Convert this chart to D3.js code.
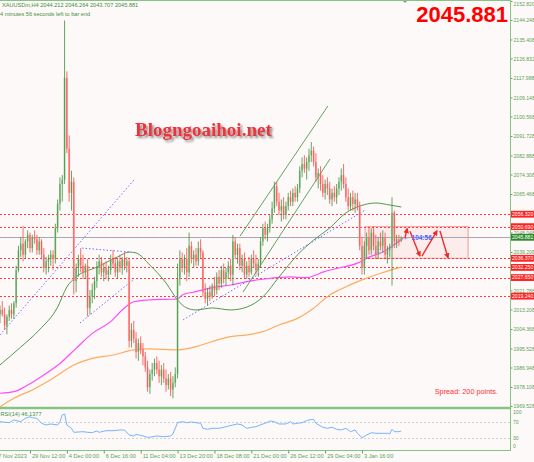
<!DOCTYPE html>
<html><head><meta charset="utf-8">
<script src="https://cdn.jsdelivr.net/npm/d3@7"></script>
<style>body{margin:0;background:#fdf9f8;}svg{display:block;}</style>
</head><body>
<svg id="c" width="534" height="462"></svg>
<script>
// ---- data ----
const opens = [
2011,2013,2011,2006,2010,2013,2011,2016,2031,2040,
2043,2038,2044,2047,2041,2046,2045,2040,2044,2038,
2032,2035,2036,2038,2036,2050,2061,2070,2072,2118,
2086,2066,2071,2026,2032,2036,2033,2030,2033,2014,
2019,2022,2026,2032,2035,2030,2032,2029,2031,2036,
2034,2030,2035,2032,2036,2033,2035,1999,2004,2000,
1994,1998,1995,1992,1987,1978,1984,1986,1989,1986,
1983,1986,1982,1979,1982,1977,1980,1984,2027,2036,
2032,2036,2030,2042,2036,2038,2035,2041,2039,2021,
2018,2021,2019,2024,2022,2028,2025,2031,2027,2030,
2033,2029,2044,2038,2041,2033,2036,2029,2033,2030,
2036,2034,2031,2034,2044,2050,2047,2050,2054,2059,
2069,2062,2058,2060,2056,2060,2064,2062,2066,2064,
2068,2076,2079,2077,2080,2083,2085,2080,2073,2075,
2070,2066,2070,2068,2063,2066,2064,2068,2071,2074,
2070,2064,2060,2064,2061,2063,2060,2042,2032,2042,
2046,2040,2048,2042,2038,2044,2042,2046,2038,2040,
2041,2057,2044,2045,2044.212];
const highs = [
2015,2017,2014,2011,2015,2016,2017,2033,2042,2046,
2051,2045,2049,2048,2047,2049,2047,2046,2045,2041,
2037,2038,2040,2040,2052,2063,2073,2074,2144,2121,
2092,2076,2073,2034,2038,2041,2038,2034,2036,2022,
2025,2028,2035,2038,2037,2034,2035,2033,2038,2040,
2037,2036,2038,2037,2039,2037,2036,2007,2008,2003,
2000,2001,1998,1994,1990,1986,1989,1991,1992,1990,
1988,1989,1986,1984,1985,1983,1987,2034,2040,2039,
2038,2041,2048,2044,2040,2041,2044,2045,2040,2025,
2023,2024,2025,2028,2030,2031,2033,2034,2032,2035,
2036,2047,2046,2043,2043,2038,2039,2035,2037,2038,
2040,2038,2036,2046,2052,2053,2052,2056,2062,2071,
2071,2066,2063,2064,2062,2066,2067,2068,2069,2070,
2078,2082,2083,2082,2086,2089,2087,2084,2077,2078,
2074,2072,2073,2071,2068,2069,2070,2073,2077,2079,
2073,2068,2066,2067,2066,2066,2062,2046,2044,2048,
2050,2050,2051,2047,2046,2048,2049,2048,2042,2043,
2064,2058,2047,2047,2046.264];
const lows = [
2007,2010,2004,2002,2008,2009,2009,2014,2030,2037,
2035,2036,2041,2039,2039,2043,2038,2038,2036,2030,
2029,2030,2033,2031,2034,2048,2058,2062,2070,2084,
2062,2058,2020,2021,2028,2030,2027,2027,2010,2011,
2016,2018,2023,2029,2028,2026,2027,2026,2029,2032,
2028,2027,2030,2029,2031,2030,1996,1996,1998,1991,
1990,1993,1988,1985,1976,1975,1981,1983,1984,1980,
1979,1980,1976,1977,1974,1973,1978,1982,2024,2030,
2029,2026,2028,2034,2032,2033,2033,2036,2019,2016,
2015,2017,2018,2019,2020,2022,2023,2025,2024,2027,
2026,2024,2036,2034,2031,2030,2027,2027,2028,2029,
2032,2029,2028,2032,2042,2045,2044,2048,2052,2057,
2060,2056,2053,2054,2054,2058,2060,2060,2062,2062,
2066,2073,2075,2072,2076,2080,2078,2071,2068,2067,
2064,2063,2065,2061,2060,2062,2061,2065,2067,2068,
2062,2058,2058,2058,2057,2058,2040,2029,2029,2036,
2038,2038,2040,2036,2036,2040,2039,2036,2034,2037,
2024,2041,2041,2042,2043.707];
const closes = [
2013,2011,2006,2010,2013,2011,2016,2031,2040,2043,
2038,2044,2047,2041,2046,2045,2040,2044,2038,2032,
2035,2036,2038,2036,2050,2061,2070,2072,2118,2086,
2066,2071,2026,2032,2036,2033,2030,2033,2014,2019,
2022,2026,2032,2035,2030,2032,2029,2031,2036,2034,
2030,2035,2032,2036,2033,2035,1999,2004,2000,1994,
1998,1995,1992,1987,1978,1984,1986,1989,1986,1983,
1986,1982,1979,1982,1977,1980,1984,2027,2036,2032,
2036,2030,2042,2036,2038,2035,2041,2039,2021,2018,
2021,2019,2024,2022,2028,2025,2031,2027,2030,2033,
2029,2044,2038,2041,2033,2036,2029,2033,2030,2036,
2034,2031,2034,2044,2050,2047,2050,2054,2059,2069,
2062,2058,2060,2056,2060,2064,2062,2066,2064,2068,
2076,2079,2077,2080,2083,2085,2080,2073,2075,2070,
2066,2070,2068,2063,2066,2064,2068,2071,2074,2070,
2064,2060,2064,2061,2063,2060,2042,2032,2042,2046,
2040,2048,2042,2038,2044,2042,2046,2038,2040,2041,
2057,2044,2045,2044.2,2045.881];

// moving averages: [bar, price]
const maGreen = [[0,1988.1],[9,1996.2],[17,2003.9],[25,2014.3],[29,2023.4],[33,2027.9],[42,2032.4],[51,2037.0],[56,2039.2],[59,2038.8],[65,2033.3],[72,2025.2],[77,2017.5],[81,2013.9],[85,2013.0],[92,2013.9],[100,2013.0],[107,2014.3],[114,2018.9],[121,2027.9],[129,2037.9],[136,2044.6],[143,2050.1],[150,2056.9],[156,2060.0],[163,2061.4],[169,2060.5],[174,2059.6]];
const maMagenta = [[0,1975.3],[6,1976.0],[12,1979.0],[19,1983.6],[26,1988.8],[33,1995.6],[40,2002.4],[48,2007.7],[53,2013.0],[58,2016.7],[64,2017.5],[72,2017.8],[77,2017.9],[79,2019.8],[85,2021.3],[92,2023.1],[100,2024.3],[107,2025.8],[114,2026.9],[121,2027.7],[126,2028.0],[129,2027.7],[133,2027.6],[137,2028.8],[140,2030.1],[147,2032.0],[155,2034.2],[160,2036.9],[166,2039.2],[172,2043.3],[175,2045.6]];
const maOrange = [[0,1969.1],[6,1973.0],[14,1976.8],[23,1982.1],[32,1988.1],[40,1991.1],[49,1992.6],[58,1994.9],[65,1995.4],[77,1994.9],[85,1996.4],[92,1998.7],[100,2000.9],[107,2001.7],[114,2003.2],[121,2006.2],[129,2009.2],[136,2013.8],[143,2019.8],[147,2022.0],[157,2026.6],[165,2029.6],[174,2032.4]];

// RSI(14): [bar, value]
const rsiPts = [[0,69.5],[4,67],[6,73.8],[9,69.5],[11,78],[13,82],[14,79.5],[16,78],[18,65.5],[20,61.3],[22,63.8],[25,61.3],[26,69.5],[27,86.3],[28,88.8],[29,61.3],[31,53],[32,43],[36,44.5],[38,43],[40,42],[42,46.3],[43,43],[46,47],[49,47],[52,48.8],[54,48.8],[56,36.3],[58,33.8],[59,38],[62,33.8],[64,30.5],[65,30.5],[66,32],[68,33.8],[71,32],[74,33.8],[75,38.8],[77,67],[79,69.5],[81,67],[83,68.8],[85,67],[87,65.5],[88,53],[90,50.5],[92,53],[95,53],[98,57],[101,61.3],[103,63.8],[105,61.3],[107,53],[109,55.5],[111,57],[114,63.8],[116,68],[117,71.3],[119,69.5],[121,63.8],[124,63.8],[126,69.5],[127,63.8],[129,65.5],[131,67],[133,72],[134,73.8],[136,75.5],[137,65.5],[140,55.5],[142,53],[144,55.5],[146,50.5],[148,48.8],[150,53],[152,44.5],[154,48.8],[155,40.5],[157,29.5],[159,36.3],[161,42],[163,40.5],[166,40.5],[168,40.5],[169,38.8],[170,50.5],[171,44.5],[173,44.5],[174,46.1377]];
const rsiLevels = [70, 30];
const rsiTicks = [100, 70, 30, 0];

// levels
const redLevels = [2056.32, 2050.69, 2036.37, 2032.25, 2027.65, 2019.24];
const bid = 2045.881;
const priceTicks = [2152.820,2144.248,2135.408,2126.832,2117.988,2109.148,2100.568,2091.728,2082.888,2074.308,2065.468,2048.048,2039.208,2021.788,2013.208,2004.368,1995.528,1986.948,1978.108,1969.528];
const timeLabels = ["27 Nov 2023","29 Nov 12:00","4 Dec 00:00","6 Dec 16:00","11 Dec 04:00","13 Dec 20:00","18 Dec 08:00","21 Dec 00:00","26 Dec 12:00","29 Dec 04:00","3 Jan 16:00"];
const timeBars = [-3,13,29,45,61,77,93,109,125,141,157];

// trend lines: [[bar,price],[bar,price]]
const blueLines = [[[0,2001.7],[58.5,2072.3]],[[35.6,2041.0],[56.4,2039.2]],[[34.7,2007.1],[57.7,2026.6]],[[79.4,2008.5],[158.3,2058.2]]];
const greenLines = [[[104.1,2046.4],[142.2,2105.3]],[[105.4,2021.1],[143.1,2081.3]]];
const boxZone = [[158.3,2050.69],[203,2036.37]];
const arrows = [[[175.6,2045.5],[176.6,2049.8]],[[177.8,2048.6],[182.1,2037.4]],[[183,2037.4],[189.5,2048.8]],[[190.8,2048.8],[194.3,2036.6]]];

// ---- drawing ----
const svg = d3.select('#c');
const green = '#5aa35a', frame = '#86c486';
const font = 'Liberation Sans, Arial, sans-serif';
const fs = 5.1;
const x = d3.scaleLinear().domain([0, 221]).range([0, 509.6]);
const y = d3.scaleLinear().domain([1969.528, 2152.82]).range([406, 1]);
const yr = d3.scaleLinear().domain([0, 100]).range([449.5, 409.5]);

const defs = svg.append('defs');
defs.append('clipPath').attr('id','cm').append('rect').attr('x',0).attr('y',0.5).attr('width',510).attr('height',406.5);
defs.append('clipPath').attr('id','cr').append('rect').attr('x',0).attr('y',409.5).attr('width',510).attr('height',40.5);
defs.append('marker').attr('id','ah').attr('viewBox','0 0 10 10').attr('refX',8).attr('refY',5)
  .attr('markerWidth',4).attr('markerHeight',4).attr('orient','auto')
  .append('path').attr('d','M0,0 L10,5 L0,10 z').attr('fill','#f02a2a');
const f = defs.append('filter').attr('id','sh').attr('x','-10%').attr('y','-30%').attr('width','130%').attr('height','180%');
f.append('feGaussianBlur').attr('in','SourceAlpha').attr('stdDeviation',1.2).attr('result','b');
f.append('feOffset').attr('in','b').attr('dx',2).attr('dy',2).attr('result','o');
f.append('feComponentTransfer').attr('in','o').attr('result','o2').append('feFuncA').attr('type','linear').attr('slope',0.45);
const fm = f.append('feMerge'); fm.append('feMergeNode').attr('in','o2'); fm.append('feMergeNode').attr('in','SourceGraphic');

const main = svg.append('g').attr('clip-path','url(#cm)');

// watermark
main.append('text').attr('x',135).attr('y',136).text('Blogngoaihoi.net')
  .attr('font-family','Liberation Serif, Times New Roman, serif').attr('font-weight','bold')
  .attr('font-size',19).attr('fill','#e8353c').attr('filter','url(#sh)');

// box zone
main.append('rect').attr('x',x(boxZone[0][0])).attr('y',y(boxZone[0][1]))
  .attr('width',x(boxZone[1][0])-x(boxZone[0][0])).attr('height',y(boxZone[1][1])-y(boxZone[0][1]))
  .attr('fill','#fbe3e3').attr('fill-opacity',0.6).attr('stroke','#f29a9a').attr('stroke-width',1);

// red level lines
main.selectAll('.lv').data(redLevels).join('line').attr('x1',0).attr('x2',510)
  .attr('y1',d=>Math.round(y(d))+0.5).attr('y2',d=>Math.round(y(d))+0.5)
  .attr('stroke','#ff3b3b').attr('stroke-width',1).attr('stroke-dasharray','2,2');
// bid line
main.append('line').attr('x1',0).attr('x2',510).attr('y1',Math.round(y(bid))+0.5).attr('y2',Math.round(y(bid))+0.5)
  .attr('stroke','#a8a8b0').attr('stroke-width',1);

// moving averages
const lineGen = d3.line().x(d=>x(d[0])).y(d=>y(d[1])).curve(d3.curveMonotoneX);
main.append('path').attr('d',lineGen(maOrange)).attr('fill','none').attr('stroke','#ffab5e').attr('stroke-width',1.2);
main.append('path').attr('d',lineGen(maMagenta)).attr('fill','none').attr('stroke','#ff4cff').attr('stroke-width',1.2);
main.append('path').attr('d',lineGen(maGreen)).attr('fill','none').attr('stroke','#4f994f').attr('stroke-width',1);

// trend lines
const seg = d3.line().x(d=>x(d[0])).y(d=>y(d[1]));
blueLines.forEach(l=>main.append('path').attr('d',seg(l)).attr('stroke','#7272ff').attr('stroke-width',1).attr('stroke-dasharray','1.5,2').attr('fill','none'));
greenLines.forEach(l=>main.append('path').attr('d',seg(l)).attr('stroke','#4f9a4f').attr('stroke-width',0.9).attr('fill','none'));

// candles
const idx = d3.range(opens.length);
const cg = main.append('g');
cg.selectAll('.b').data(idx).join('rect')
  .attr('x',i=>x(i)-0.9).attr('width',1.8)
  .attr('y',i=>y(Math.max(opens[i],closes[i])))
  .attr('height',i=>Math.max(0.8, Math.abs(y(opens[i])-y(closes[i]))))
  .attr('fill',i=>closes[i]>=opens[i]?'#9ccf96':'#ff9c9c');
cg.selectAll('.w').data(idx).join('line')
  .attr('x1',i=>x(i)).attr('x2',i=>x(i)).attr('y1',i=>y(highs[i])).attr('y2',i=>y(lows[i]))
  .attr('stroke',i=>closes[i]>=opens[i]?'#3f8f3f':'#ff4545').attr('stroke-width',0.8);

// arrows
arrows.forEach(a=>main.append('path').attr('d',seg(a)).attr('stroke','#f02a2a').attr('stroke-width',1.4).attr('fill','none').attr('marker-end','url(#ah)'));

// countdown text
const last = opens.length-1;
main.append('text').attr('x',x(last)+2).attr('y',y(bid)+2.5).text('\u2190 104:56')
  .attr('font-family',font).attr('font-size',6.5).attr('font-weight','bold').attr('fill','#4a64ff');

// spread text
main.append('text').attr('x',498).attr('y',394).attr('text-anchor','end').text('Spread:  200 points.')
  .attr('font-family',font).attr('font-size',7.3).attr('fill','#ff3030');

// header texts
svg.append('text').attr('x',2).attr('y',7).text(`XAUUSDm,H4  ${opens[last].toFixed(3)} ${highs[last].toFixed(3)} ${lows[last].toFixed(3)} ${closes[last].toFixed(3)}`)
  .attr('font-family',font).attr('font-size',5.6).attr('fill','#3f8f3f');
svg.append('text').attr('x',0).attr('y',15.5).text('4 minutes 56 seconds left to bar end')
  .attr('font-family',font).attr('font-size',5.6).attr('fill','#3f8f3f');
svg.append('path').attr('d','M402,0 L408,0 L405,3 Z').attr('fill','#8a96a8');
svg.append('text').attr('x',508).attr('y',21.5).attr('text-anchor','end').text(closes[last].toFixed(3))
  .attr('font-family',font).attr('font-weight','bold').attr('font-size',22).attr('fill','#ff0000');

// price axis
const ax = svg.append('g').attr('transform','translate(510.5,0)')
  .call(d3.axisRight(y).tickValues(priceTicks).tickFormat(d=>d.toFixed(3)).tickSize(2).tickPadding(1));
ax.select('.domain').remove();
ax.selectAll('line').attr('stroke',green);
ax.selectAll('text').attr('fill',green).attr('font-family',font).attr('font-size',fs);
ax.selectAll('.tick').filter(d=>y(d)<3).select('text').attr('dy','0.9em');

// level boxes on axis
const lb = svg.append('g');
redLevels.forEach(v=>{
  lb.append('rect').attr('x',511).attr('y',y(v)-3.4).attr('width',24).attr('height',6.8).attr('fill','#ff2222');
  lb.append('text').attr('x',512).attr('y',y(v)+1.9).text(v.toFixed(3)).attr('fill','#fff').attr('font-family',font).attr('font-size',fs);
});
lb.append('rect').attr('x',511).attr('y',y(bid)-3.4).attr('width',24).attr('height',6.8).attr('fill','#2f8a2f');
lb.append('text').attr('x',512).attr('y',y(bid)+1.9).text(bid.toFixed(3)).attr('fill','#fff').attr('font-family',font).attr('font-size',fs);

// RSI panel
const rp = svg.append('g').attr('clip-path','url(#cr)');
rp.selectAll('.rl').data(rsiLevels).join('line').attr('x1',0).attr('x2',510)
  .attr('y1',d=>Math.round(yr(d))+0.5).attr('y2',d=>Math.round(yr(d))+0.5)
  .attr('stroke','#c8c8c8').attr('stroke-width',0.8).attr('stroke-dasharray','2,2');
rp.append('path').attr('d',d3.line().x(d=>x(d[0])).y(d=>yr(d[1]))(rsiPts)).attr('fill','none').attr('stroke','#74b4ff').attr('stroke-width',1);
svg.append('text').attr('x',0.5).attr('y',416).text('RSI(14) '+rsiPts[rsiPts.length-1][1].toFixed(4))
  .attr('font-family',font).attr('font-size',5.6).attr('fill','#3f8f3f');
rsiTicks.forEach(v=>{
  const yy = Math.min(446, Math.max(412, yr(v)));
  svg.append('text').attr('x',513).attr('y',yy+2).text(v).attr('font-family',font).attr('font-size',fs).attr('fill',green);
});

// frame
svg.append('line').attr('x1',0).attr('x2',511).attr('y1',0.5).attr('y2',0.5).attr('stroke',frame).attr('stroke-width',1);
svg.append('line').attr('x1',510.5).attr('x2',510.5).attr('y1',0).attr('y2',451).attr('stroke',frame).attr('stroke-width',1);
svg.append('line').attr('x1',0).attr('x2',511).attr('y1',408).attr('y2',408).attr('stroke',frame).attr('stroke-width',2.4);
svg.append('line').attr('x1',0).attr('x2',511).attr('y1',450.5).attr('y2',450.5).attr('stroke',frame).attr('stroke-width',1);

// time axis
const tx = svg.append('g').attr('transform','translate(0,450.5)')
  .call(d3.axisBottom(x).tickValues(timeBars).tickFormat((d,i)=>timeLabels[i]).tickSize(3).tickPadding(1));
tx.select('.domain').remove();
tx.selectAll('line').attr('stroke',green);
tx.selectAll('text').attr('fill',green).attr('font-family',font).attr('font-size',5.6).attr('text-anchor','start').attr('dx',1.5).attr('dy','0.55em');
</script>
</body></html>
